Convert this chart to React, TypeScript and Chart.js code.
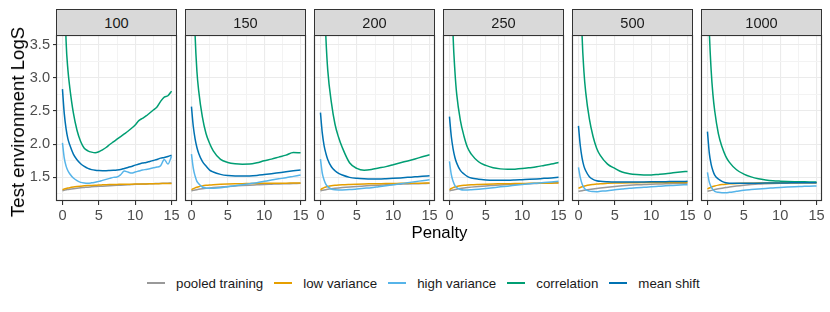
import React, { useEffect, useRef } from 'react';
import { Chart, registerables } from 'chart.js';

Chart.register(...registerables);

// ---------- data ----------
const SAMPLE_SIZES = ['100', '150', '200', '250', '500', '1000'];
const SERIES_NAMES = ['pooled training', 'low variance', 'high variance', 'correlation', 'mean shift'];
const SERIES_COLORS = ['#999999', '#E69F00', '#56B4E9', '#009E73', '#0072B2'];

// panel "100" is sampled more finely (noisy curves)
const PENALTY_FINE = [0, 0.25, 0.5, 0.75, 1, 1.5, 2, 2.5, 3, 3.5, 4, 4.5, 5, 5.5, 6, 6.5, 7, 7.5, 8, 8.5, 9, 9.5, 10, 10.5, 11, 11.5, 12, 12.5, 13, 13.5, 14, 14.5, 15];
const PENALTY = [0, 0.25, 0.5, 0.75, 1, 1.5, 2, 2.5, 3, 4, 5, 6, 7, 8, 9, 10, 11, 12, 13, 14, 15];

const X_TICKS = [0, 5, 10, 15];
const X_MINOR = [2.5, 7.5, 12.5];
const Y_TICKS = [1.5, 2, 2.5, 3, 3.5];
const Y_MINOR = [1.25, 1.75, 2.25, 2.75, 3.25];
const X_RANGE = [-0.75, 15.75];
const Y_RANGE = [1.144, 3.63];

// one row per panel (100, 150, 200, 250, 500, 1000)
const pooledTraining = [
  [1.300, 1.306, 1.312, 1.317, 1.322, 1.330, 1.337, 1.343, 1.348, 1.353, 1.357, 1.361, 1.365, 1.368, 1.371, 1.374, 1.377, 1.380, 1.383, 1.386, 1.389, 1.392, 1.395, 1.397, 1.399, 1.401, 1.403, 1.405, 1.407, 1.409, 1.411, 1.413, 1.415],
  [1.30, 1.305, 1.31, 1.315, 1.32, 1.328, 1.335, 1.341, 1.346, 1.355, 1.363, 1.37, 1.377, 1.383, 1.388, 1.393, 1.397, 1.401, 1.404, 1.407, 1.41],
  [1.30, 1.305, 1.31, 1.315, 1.32, 1.328, 1.335, 1.341, 1.346, 1.355, 1.363, 1.37, 1.377, 1.383, 1.388, 1.393, 1.397, 1.401, 1.404, 1.407, 1.41],
  [1.30, 1.305, 1.31, 1.316, 1.322, 1.332, 1.34, 1.347, 1.353, 1.363, 1.371, 1.378, 1.385, 1.391, 1.396, 1.401, 1.405, 1.409, 1.413, 1.416, 1.42],
  [1.29, 1.295, 1.30, 1.305, 1.31, 1.318, 1.325, 1.333, 1.34, 1.352, 1.362, 1.372, 1.38, 1.387, 1.392, 1.397, 1.40, 1.403, 1.406, 1.408, 1.41],
  [1.29, 1.297, 1.304, 1.31, 1.316, 1.327, 1.337, 1.346, 1.355, 1.37, 1.382, 1.392, 1.40, 1.405, 1.409, 1.412, 1.414, 1.416, 1.418, 1.419, 1.42],
];
const lowVariance = [
  [1.315, 1.324, 1.332, 1.339, 1.345, 1.354, 1.361, 1.367, 1.372, 1.376, 1.379, 1.382, 1.385, 1.387, 1.389, 1.391, 1.393, 1.394, 1.395, 1.396, 1.397, 1.398, 1.399, 1.400, 1.401, 1.402, 1.403, 1.404, 1.405, 1.406, 1.407, 1.408, 1.409],
  [1.315, 1.33, 1.342, 1.352, 1.36, 1.372, 1.38, 1.386, 1.39, 1.396, 1.40, 1.403, 1.405, 1.407, 1.409, 1.41, 1.411, 1.412, 1.413, 1.414, 1.415],
  [1.315, 1.332, 1.345, 1.355, 1.362, 1.373, 1.38, 1.385, 1.389, 1.394, 1.398, 1.401, 1.403, 1.405, 1.407, 1.408, 1.41, 1.411, 1.412, 1.413, 1.414],
  [1.315, 1.332, 1.345, 1.355, 1.362, 1.373, 1.38, 1.385, 1.389, 1.394, 1.398, 1.401, 1.403, 1.405, 1.407, 1.408, 1.41, 1.411, 1.412, 1.413, 1.414],
  [1.335, 1.347, 1.358, 1.367, 1.374, 1.385, 1.393, 1.40, 1.405, 1.41, 1.414, 1.417, 1.419, 1.42, 1.421, 1.422, 1.423, 1.423, 1.424, 1.424, 1.425],
  [1.325, 1.34, 1.352, 1.362, 1.37, 1.383, 1.392, 1.398, 1.402, 1.407, 1.41, 1.412, 1.414, 1.415, 1.416, 1.417, 1.418, 1.418, 1.419, 1.419, 1.42],
];
const highVariance = [
  [2.02, 1.79, 1.67, 1.60, 1.555, 1.49, 1.45, 1.425, 1.415, 1.412, 1.418, 1.428, 1.44, 1.455, 1.47, 1.485, 1.50, 1.505, 1.54, 1.595, 1.58, 1.565, 1.58, 1.595, 1.61, 1.62, 1.63, 1.645, 1.655, 1.675, 1.77, 1.70, 1.82],
  [1.85, 1.64, 1.52, 1.44, 1.405, 1.355, 1.338, 1.335, 1.337, 1.345, 1.36, 1.375, 1.39, 1.405, 1.42, 1.44, 1.46, 1.478, 1.495, 1.515, 1.535],
  [1.775, 1.565, 1.46, 1.395, 1.36, 1.325, 1.312, 1.31, 1.311, 1.316, 1.325, 1.335, 1.345, 1.36, 1.375, 1.39, 1.405, 1.42, 1.435, 1.45, 1.465],
  [1.74, 1.545, 1.44, 1.375, 1.345, 1.318, 1.31, 1.31, 1.313, 1.322, 1.333, 1.345, 1.357, 1.368, 1.38, 1.392, 1.403, 1.413, 1.423, 1.432, 1.44],
  [1.65, 1.50, 1.40, 1.345, 1.315, 1.293, 1.287, 1.285, 1.29, 1.30, 1.315, 1.325, 1.335, 1.342, 1.35, 1.358, 1.365, 1.372, 1.378, 1.384, 1.39],
  [1.575, 1.43, 1.36, 1.315, 1.29, 1.275, 1.27, 1.27, 1.275, 1.29, 1.305, 1.316, 1.326, 1.334, 1.341, 1.348, 1.354, 1.359, 1.363, 1.367, 1.37],
];
const correlation = [
  [6.5, 4.6, 3.55, 3.12, 2.86, 2.47, 2.21, 2.04, 1.94, 1.9, 1.88, 1.87, 1.885, 1.915, 1.95, 1.995, 2.035, 2.075, 2.115, 2.155, 2.195, 2.24, 2.29, 2.355, 2.39, 2.425, 2.47, 2.515, 2.56, 2.645, 2.71, 2.73, 2.8],
  [6.5, 4.7, 3.65, 3.1, 2.8, 2.41, 2.16, 2.01, 1.90, 1.77, 1.725, 1.705, 1.698, 1.70, 1.72, 1.75, 1.775, 1.805, 1.835, 1.875, 1.87],
  [8, 5.8, 4.3, 3.6, 3.12, 2.63, 2.3, 2.1, 1.95, 1.72, 1.635, 1.608, 1.618, 1.64, 1.662, 1.69, 1.72, 1.748, 1.778, 1.81, 1.84],
  [6.5, 4.7, 3.63, 3.1, 2.75, 2.36, 2.12, 1.945, 1.85, 1.735, 1.68, 1.645, 1.628, 1.622, 1.624, 1.632, 1.645, 1.66, 1.68, 1.70, 1.725],
  [6.5, 4.7, 3.63, 3.1, 2.78, 2.38, 2.12, 1.94, 1.83, 1.70, 1.635, 1.58, 1.556, 1.543, 1.537, 1.536, 1.545, 1.555, 1.568, 1.58, 1.59],
  [4.8, 3.72, 3.13, 2.75, 2.5, 2.16, 1.96, 1.82, 1.73, 1.615, 1.55, 1.508, 1.48, 1.462, 1.45, 1.443, 1.438, 1.435, 1.433, 1.431, 1.43],
];
const meanShift = [
  [2.83, 2.46, 2.23, 2.08, 1.99, 1.85, 1.765, 1.705, 1.665, 1.635, 1.617, 1.607, 1.602, 1.600, 1.600, 1.603, 1.607, 1.612, 1.62, 1.635, 1.65, 1.665, 1.685, 1.70, 1.715, 1.725, 1.74, 1.755, 1.77, 1.79, 1.80, 1.815, 1.835],
  [2.565, 2.27, 2.08, 1.95, 1.86, 1.74, 1.67, 1.61, 1.58, 1.545, 1.527, 1.52, 1.52, 1.522, 1.53, 1.542, 1.555, 1.57, 1.585, 1.598, 1.61],
  [2.475, 2.17, 1.98, 1.86, 1.77, 1.66, 1.60, 1.56, 1.535, 1.50, 1.485, 1.478, 1.475, 1.476, 1.48, 1.485, 1.492, 1.50, 1.508, 1.516, 1.525],
  [2.415, 2.12, 1.93, 1.80, 1.715, 1.605, 1.55, 1.51, 1.49, 1.472, 1.462, 1.456, 1.455, 1.456, 1.46, 1.465, 1.47, 1.477, 1.485, 1.492, 1.50],
  [2.275, 1.98, 1.79, 1.67, 1.60, 1.51, 1.47, 1.45, 1.44, 1.433, 1.43, 1.43, 1.43, 1.431, 1.432, 1.433, 1.434, 1.435, 1.437, 1.438, 1.44],
  [2.19, 1.87, 1.70, 1.60, 1.535, 1.475, 1.44, 1.42, 1.412, 1.41, 1.411, 1.412, 1.413, 1.414, 1.415, 1.416, 1.417, 1.418, 1.419, 1.42, 1.42],
];
const SERIES_VALUES = [pooledTraining, lowVariance, highVariance, correlation, meanShift];

// ---------- layout ----------
const FONT = '"Liberation Sans", Arial, Helvetica, sans-serif';
const TICK_FONT = 14.6;
const PANEL_LEFT0 = 57;
const PANEL_STEP = 129;
const PANEL_W = 120;
const PANEL_H = 165;
const STRIP_TOP = 9;
const STRIP_H = 27;
const SIDE_PAD = 12;
const X_AXIS_H = 30;
const CANVAS_H = STRIP_H + PANEL_H + X_AXIS_H;

const isIn = (arr: number[], v: number) => arr.some((a) => Math.abs(a - v) < 1e-9);

const borderPlugin = {
  id: 'panelBorder',
  afterDatasetsDraw(chart: any) {
    const { ctx, chartArea } = chart;
    const { left, top, right, bottom } = chartArea;
    ctx.save();
    ctx.strokeStyle = '#333333';
    ctx.lineWidth = 1.15;
    ctx.strokeRect(left - 0.5, top - 0.5, right - left, bottom - top);
    ctx.restore();
  },
};

function Panel({ index }: { index: number }) {
  const ref = useRef<HTMLCanvasElement>(null);
  const first = index === 0;
  const panelLeft = PANEL_LEFT0 + index * PANEL_STEP;
  const canvasLeft = first ? 0 : panelLeft - SIDE_PAD;
  const width = first ? panelLeft + PANEL_W + SIDE_PAD : PANEL_W + 2 * SIDE_PAD;

  useEffect(() => {
    if (!ref.current) return;
    const xs = index === 0 ? PENALTY_FINE : PENALTY;
    const datasets = SERIES_NAMES.map((name, k) => ({
      label: name,
      data: xs.map((x, j) => ({ x, y: SERIES_VALUES[k][index][j] })),
      borderColor: SERIES_COLORS[k],
      backgroundColor: SERIES_COLORS[k],
      borderWidth: 1.5,
      pointRadius: 0,
      fill: false,
      cubicInterpolationMode: 'monotone' as const,
      order: SERIES_NAMES.length - k,
    }));
    const chart = new Chart(ref.current, {
      type: 'line',
      data: { datasets },
      plugins: [borderPlugin],
      options: {
        animation: false,
        responsive: false,
        maintainAspectRatio: false,
        devicePixelRatio: 1,
        layout: { padding: { left: first ? 0 : SIDE_PAD, right: SIDE_PAD, top: STRIP_H, bottom: 0 } },
        plugins: { legend: { display: false }, tooltip: { enabled: false }, title: { display: false } },
        scales: {
          x: {
            type: 'linear',
            min: X_RANGE[0],
            max: X_RANGE[1],
            afterBuildTicks: (s: any) => {
              s.ticks = [...X_TICKS, ...X_MINOR].sort((a, b) => a - b).map((v) => ({ value: v }));
            },
            afterFit: (s: any) => {
              s.height = X_AXIS_H;
            },
            ticks: {
              autoSkip: false,
              maxRotation: 0,
              padding: 2,
              color: '#4D4D4D',
              font: { family: FONT, size: TICK_FONT },
              callback: (v: any) => (isIn(X_TICKS, Number(v)) ? String(v) : ''),
            },
            grid: {
              color: (ctx: any) => (ctx.tick && isIn(X_TICKS, ctx.tick.value) ? '#EBEBEB' : '#F3F3F3'),
              lineWidth: (ctx: any) => (ctx.tick && isIn(X_TICKS, ctx.tick.value) ? 1.1 : 1),
              drawTicks: true,
              tickLength: 4,
              tickColor: (ctx: any) => (ctx.tick && isIn(X_TICKS, ctx.tick.value) ? '#333333' : 'rgba(0,0,0,0)'),
              tickWidth: 1.1,
            },
            border: { display: false },
          },
          y: {
            type: 'linear',
            min: Y_RANGE[0],
            max: Y_RANGE[1],
            afterBuildTicks: (s: any) => {
              s.ticks = [...Y_TICKS, ...Y_MINOR].sort((a, b) => a - b).map((v) => ({ value: v }));
            },
            afterFit: (s: any) => {
              s.width = first ? panelLeft : 0;
            },
            ticks: {
              display: first,
              autoSkip: false,
              padding: 3,
              color: '#4D4D4D',
              font: { family: FONT, size: TICK_FONT },
              callback: (v: any) => (isIn(Y_TICKS, Number(v)) ? Number(v).toFixed(1) : ''),
            },
            grid: {
              color: (ctx: any) => (ctx.tick && isIn(Y_TICKS, ctx.tick.value) ? '#EBEBEB' : '#F3F3F3'),
              lineWidth: (ctx: any) => (ctx.tick && isIn(Y_TICKS, ctx.tick.value) ? 1.1 : 1),
              drawTicks: first,
              tickLength: 4,
              tickColor: (ctx: any) => (ctx.tick && isIn(Y_TICKS, ctx.tick.value) ? '#333333' : 'rgba(0,0,0,0)'),
              tickWidth: 1.1,
            },
            border: { display: false },
          },
        },
      } as any,
    });
    return () => chart.destroy();
  }, [index]);

  return (
    <canvas
      ref={ref}
      width={width}
      height={CANVAS_H}
      style={{ position: 'absolute', left: canvasLeft, top: STRIP_TOP, width, height: CANVAS_H }}
    />
  );
}

function Strip({ index }: { index: number }) {
  const panelLeft = PANEL_LEFT0 + index * PANEL_STEP;
  return (
    <div
      style={{
        position: 'absolute',
        left: panelLeft - 1,
        top: STRIP_TOP,
        width: PANEL_W + 1,
        height: STRIP_H,
        boxSizing: 'border-box',
        background: '#D9D9D9',
        border: '1px solid #333333',
        display: 'flex',
        alignItems: 'center',
        justifyContent: 'center',
        fontSize: TICK_FONT,
        color: '#1A1A1A',
      }}
    >
      {SAMPLE_SIZES[index]}
    </div>
  );
}

export default function App() {
  const panelsCenter = (PANEL_LEFT0 + PANEL_LEFT0 + 5 * PANEL_STEP + PANEL_W) / 2;
  return (
    <div
      style={{
        position: 'fixed',
        left: 0,
        top: 0,
        width: 830,
        height: 312,
        background: '#FFFFFF',
        fontFamily: FONT,
        overflow: 'hidden',
      }}
    >
      {SAMPLE_SIZES.map((_, i) => (
        <Panel key={'p' + i} index={i} />
      ))}
      {SAMPLE_SIZES.map((_, i) => (
        <Strip key={'s' + i} index={i} />
      ))}
      <div
        style={{
          position: 'absolute',
          left: 17.5,
          top: 122,
          transform: 'translate(-50%, -50%) rotate(-90deg)',
          whiteSpace: 'nowrap',
          fontSize: 18.6,
          lineHeight: '20px',
          color: '#000000',
        }}
      >
        Test environment LogS
      </div>
      <div
        style={{
          position: 'absolute',
          left: panelsCenter,
          top: 224.5,
          transform: 'translateX(-50%)',
          whiteSpace: 'nowrap',
          fontSize: 16.8,
          lineHeight: '16.8px',
          color: '#000000',
        }}
      >
        Penalty
      </div>
      <div
        style={{
          position: 'absolute',
          left: 147,
          top: 274,
          height: 18,
          display: 'flex',
          alignItems: 'center',
          whiteSpace: 'nowrap',
          fontSize: 13.3,
          color: '#1A1A1A',
        }}
      >
        {SERIES_NAMES.map((name, k) => (
          <div key={name} style={{ display: 'flex', alignItems: 'center', marginRight: 11 }}>
            <span style={{ display: 'inline-block', width: 18, height: 1.4, background: SERIES_COLORS[k], marginRight: 11 }} />
            <span>{name}</span>
          </div>
        ))}
      </div>
    </div>
  );
}
